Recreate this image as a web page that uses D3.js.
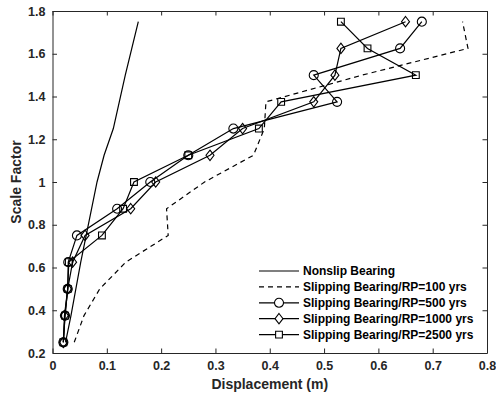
<!DOCTYPE html>
<html>
<head>
<meta charset="utf-8">
<script src="https://cdn.jsdelivr.net/npm/d3@7"></script>
<style>
  html, body { margin: 0; padding: 0; background: #fff; }
  svg { display: block; font-family: "Liberation Sans", Arial, sans-serif; }
</style>
</head>
<body>
<svg id="chart" width="496" height="398"></svg>
<script>
// Scale factor levels shared by every series
const scaleFactors = [0.25, 0.375, 0.5, 0.625, 0.75, 0.875, 1.0, 1.125, 1.25, 1.375, 1.5, 1.625, 1.75];

// Displacement (m) at each scale factor
const nonslip = [0.024, 0.034, 0.043, 0.052, 0.062, 0.072, 0.082, 0.095, 0.112, 0.123, 0.134, 0.146, 0.158];
const rp100   = [0.040, 0.058, 0.087, 0.135, 0.213, 0.210, 0.280, 0.370, 0.390, 0.393, 0.570, 0.765, 0.755];
const rp500   = [0.020, 0.023, 0.028, 0.029, 0.045, 0.119, 0.180, 0.250, 0.333, 0.524, 0.481, 0.640, 0.680];
const rp1000  = [0.020, 0.022, 0.028, 0.037, 0.060, 0.144, 0.190, 0.290, 0.350, 0.481, 0.520, 0.531, 0.650];
const rp2500  = [0.020, 0.023, 0.028, 0.030, 0.091, 0.130, 0.150, 0.250, 0.380, 0.421, 0.669, 0.580, 0.531];

const xTicks = [0, 0.1, 0.2, 0.3, 0.4, 0.5, 0.6, 0.7, 0.8];
const yTicks = [0.2, 0.4, 0.6, 0.8, 1, 1.2, 1.4, 1.6, 1.8];

const seriesNames = [
  "Nonslip Bearing",
  "Slipping Bearing/RP=100 yrs",
  "Slipping Bearing/RP=500 yrs",
  "Slipping Bearing/RP=1000 yrs",
  "Slipping Bearing/RP=2500 yrs"
];
const seriesValues = [nonslip, rp100, rp500, rp1000, rp2500];
const seriesMarkers = [null, null, "circle", "diamond", "square"];
const seriesDash = [null, "5,4", null, null, null];

const svg = d3.select("#chart");
const m = { left: 52.5, right: 487, top: 11, bottom: 353 };
const axisColor = "#262626";

const x = d3.scaleLinear().domain([0, 0.8]).range([m.left, m.right]);
const y = d3.scaleLinear().domain([0.2, 1.8]).range([m.bottom, m.top]);

const fmt = d => String(d);

// Axes with inward ticks on all four sides
const tickLen = 4.5;
svg.append("g").attr("transform", `translate(0,${m.bottom})`)
  .call(d3.axisBottom(x).tickValues(xTicks).tickFormat(fmt).tickSizeInner(-tickLen).tickSizeOuter(0).tickPadding(8));
svg.append("g").attr("transform", `translate(${m.left},0)`)
  .call(d3.axisLeft(y).tickValues(yTicks).tickFormat(fmt).tickSizeInner(-tickLen).tickSizeOuter(0).tickPadding(7));
svg.append("g").attr("transform", `translate(0,${m.top})`)
  .call(d3.axisTop(x).tickValues(xTicks).tickFormat("").tickSizeInner(-tickLen).tickSizeOuter(0));
svg.append("g").attr("transform", `translate(${m.right},0)`)
  .call(d3.axisRight(y).tickValues(yTicks).tickFormat("").tickSizeInner(-tickLen).tickSizeOuter(0));

svg.selectAll(".domain").attr("stroke", axisColor).attr("stroke-width", 1);
svg.selectAll(".tick line").attr("stroke", axisColor).attr("stroke-width", 1);
svg.selectAll(".tick text")
  .attr("fill", axisColor)
  .style("font-size", "12.5px")
  .style("font-weight", "bold")
  .style("font-family", "'Liberation Sans', Arial, sans-serif");

// Axis titles
svg.append("text")
  .attr("x", (m.left + m.right) / 2).attr("y", 389)
  .attr("text-anchor", "middle")
  .attr("fill", axisColor)
  .style("font-size", "14px").style("font-weight", "bold")
  .text("Displacement (m)");
svg.append("text")
  .attr("transform", `translate(21,${(m.top + m.bottom) / 2}) rotate(-90)`)
  .attr("text-anchor", "middle")
  .attr("fill", axisColor)
  .style("font-size", "14px").style("font-weight", "bold")
  .text("Scale Factor");

// Marker symbols
const symbolFor = {
  circle: d3.symbol().type(d3.symbolCircle).size(64),
  square: d3.symbol().type(d3.symbolSquare).size(46)
};
function markerPath(kind) {
  if (kind === "diamond") {
    const w = 4, h = 5.2;
    return `M0,${-h}L${w},0L0,${h}L${-w},0Z`;
  }
  return symbolFor[kind]();
}

const line = d3.line().x(d => x(d[0])).y(d => y(d[1]));
const plot = svg.append("g");

seriesValues.forEach((vals, i) => {
  const pts = vals.map((v, j) => [v, scaleFactors[j]]);
  plot.append("path")
    .attr("d", line(pts))
    .attr("fill", "none")
    .attr("stroke", "#000")
    .attr("stroke-width", 1.2)
    .attr("stroke-dasharray", seriesDash[i]);
  if (seriesMarkers[i]) {
    plot.selectAll(null).data(pts).enter().append("path")
      .attr("d", markerPath(seriesMarkers[i]))
      .attr("transform", d => `translate(${x(d[0])},${y(d[1])})`)
      .attr("fill", "none")
      .attr("stroke", "#000")
      .attr("stroke-width", 1.1);
  }
});

// Legend
const legend = svg.append("g").attr("transform", "translate(259,271)");
seriesNames.forEach((name, i) => {
  const row = legend.append("g").attr("transform", `translate(0,${i * 15.9})`);
  row.append("line")
    .attr("x1", 0).attr("x2", 40).attr("y1", 0).attr("y2", 0)
    .attr("stroke", "#000").attr("stroke-width", 1.2)
    .attr("stroke-dasharray", seriesDash[i]);
  if (seriesMarkers[i]) {
    row.append("path")
      .attr("d", markerPath(seriesMarkers[i]))
      .attr("transform", "translate(20,0)")
      .attr("fill", "#fff").attr("stroke", "#000").attr("stroke-width", 1.1);
  }
  row.append("text")
    .attr("x", 44).attr("y", 0).attr("dy", "0.35em")
    .attr("fill", "#000")
    .style("font-size", "12px").style("font-weight", "bold")
    .text(name);
});
</script>
</body>
</html>
